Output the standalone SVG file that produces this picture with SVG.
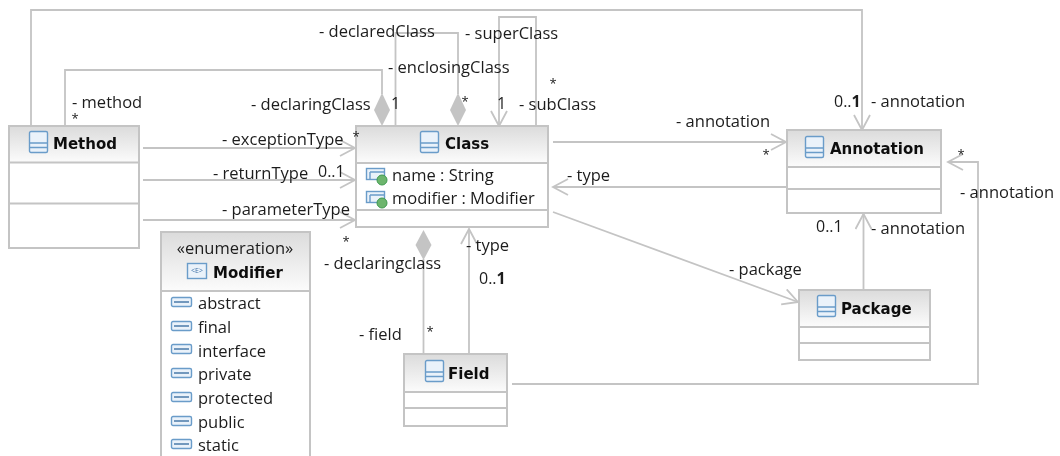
<svg xmlns="http://www.w3.org/2000/svg" xmlns:xlink="http://www.w3.org/1999/xlink" width="1060" height="456" viewBox="0 0 1060 456">
<style>
text{font-family:"Open Sans","DejaVu Sans",sans-serif;font-size:16.5px;fill:#1c1c1c}
.t{font-family:"DejaVu Sans","Liberation Sans",sans-serif;font-weight:bold;font-size:15px;fill:#111}
.m{font-size:16px}
.s{font-size:13px}
.b{font-weight:bold}
.box{fill:#fff;stroke:#c4c4c4;stroke-width:2}
.hd{fill:url(#hg)}
.div{stroke:#c4c4c4;stroke-width:2;fill:none}
.c{fill:none;stroke:#c4c4c4;stroke-width:1.8}
.d{fill:#c4c4c4;stroke:none}
.ic{fill:#eaf2fa;stroke:#6a9cc9;stroke-width:1.4}
.ln{stroke:#6a9cc9;stroke-width:1.4;fill:none}
</style>
<defs>
<filter id="soft" filterUnits="userSpaceOnUse" x="0" y="0" width="1060" height="456"><feGaussianBlur stdDeviation="0.3"/></filter>
<linearGradient id="hg" x1="0" y1="0" x2="0" y2="1"><stop offset="0" stop-color="#dcdcdc"/><stop offset="1" stop-color="#fbfbfb"/></linearGradient>
<marker id="a" markerUnits="userSpaceOnUse" markerWidth="20" markerHeight="20" refX="16" refY="9" orient="auto"><path d="M1 1L16 9L1 17" fill="none" stroke="#c4c4c4" stroke-width="1.8"/></marker>
<g id="ci"><rect x="0.5" y="0.5" width="18" height="21" rx="1.5" class="ic"/><path d="M0.5 12H18.5M0.5 16.5H18.5" class="ln"/></g>
<g id="ai"><rect x="0.5" y="0.5" width="18" height="11" class="ic"/><path d="M4 4H18M4 4V11" class="ln"/><circle cx="16" cy="12" r="5" fill="#6db56d" stroke="#3f9a4f"/></g>
<g id="li"><rect x="0.5" y="0.5" width="20" height="9" rx="1.500" class="ic"/><path d="M3 5H18" stroke="#4a7aa8" stroke-width="1.500"/></g>
</defs>
<g filter="url(#soft)">
<g id="connectors">
<path class="c" d="M31 126V10H862V130" marker-end="url(#a)"/>
<path class="c" d="M65 126V70H382V94"/>
<path class="d" d="M382 93L390 110L382 126L374 110Z"/>
<path class="c" d="M395.500 126V33H458V94"/>
<path class="d" d="M458 93L466 110L458 126L450 110Z"/>
<path class="c" d="M536 126V17H499V126" marker-end="url(#a)"/>
<path class="c" d="M143 148H355" marker-end="url(#a)"/>
<path class="c" d="M143 180H355" marker-end="url(#a)"/>
<path class="c" d="M143 220H355" marker-end="url(#a)"/>
<path class="c" d="M553 142H786" marker-end="url(#a)"/>
<path class="c" d="M786 187H553" marker-end="url(#a)"/>
<path class="c" d="M553 212L798 302" marker-end="url(#a)"/>
<path class="c" d="M863.500 290V214" marker-end="url(#a)"/>
<path class="c" d="M512 384H978V162H948" marker-end="url(#a)"/>
<path class="c" d="M469 354V229" marker-end="url(#a)"/>
<path class="c" d="M423.500 354V259"/>
<path class="d" d="M423.500 230L431.500 245L423.500 260L415.500 245Z"/>
</g>

<g id="method">
<rect class="box" x="9" y="126" width="130" height="122"/>
<rect class="hd" x="10" y="127" width="128" height="35"/>
<path class="div" d="M9 162.500H139M9 203.500H139"/>
<use xlink:href="#ci" href="#ci" x="29" y="131"/>
<text class="t" x="53" y="149">Method</text>
</g>

<g id="class">
<rect class="box" x="356" y="126" width="192" height="101"/>
<rect class="hd" x="357" y="127" width="190" height="35"/>
<path class="div" d="M356 163H548M356 210H548"/>
<use xlink:href="#ci" href="#ci" x="420" y="131"/>
<text class="t" x="445" y="149">Class</text>
<use xlink:href="#ai" href="#ai" x="366" y="168"/>
<text x="392" y="181">name : String</text>
<use xlink:href="#ai" href="#ai" x="366" y="191"/>
<text x="392" y="204">modifier : Modifier</text>
</g>

<g id="annotation">
<rect class="box" x="787" y="130" width="154" height="83"/>
<rect class="hd" x="788" y="131" width="152" height="35"/>
<path class="div" d="M787 167H941M787 189H941"/>
<use xlink:href="#ci" href="#ci" x="805" y="136"/>
<text class="t" x="830" y="154">Annotation</text>
</g>

<g id="package">
<rect class="box" x="799" y="290" width="131" height="70"/>
<rect class="hd" x="800" y="291" width="129" height="35"/>
<path class="div" d="M799 327H930M799 343H930"/>
<use xlink:href="#ci" href="#ci" x="817" y="295"/>
<text class="t" x="841" y="314">Package</text>
</g>

<g id="field">
<rect class="box" x="404" y="354" width="103" height="72"/>
<rect class="hd" x="405" y="355" width="101" height="36"/>
<path class="div" d="M404 392H507M404 408H507"/>
<use xlink:href="#ci" href="#ci" x="425" y="360"/>
<text class="t" x="448" y="379">Field</text>
</g>

<g id="modifier">
<path class="box" d="M161 457V232H310V457"/>
<rect class="hd" x="162" y="233" width="147" height="57"/>
<path class="div" d="M161 291H310"/>
<text x="235" y="254" text-anchor="middle">«enumeration»</text>
<rect class="ic" x="187.500" y="263.500" width="19" height="15"/>
<text x="197" y="273" text-anchor="middle" style="font-size:7px;fill:#3b6ea5">&lt;E&gt;</text>
<text class="t" x="213" y="278">Modifier</text>
<use xlink:href="#li" href="#li" x="171" y="297"/><text x="198" y="309">abstract</text>
<use xlink:href="#li" href="#li" x="171" y="321"/><text x="198" y="333">final</text>
<use xlink:href="#li" href="#li" x="171" y="344"/><text x="198" y="357">interface</text>
<use xlink:href="#li" href="#li" x="171" y="368"/><text x="198" y="380">private</text>
<use xlink:href="#li" href="#li" x="171" y="392"/><text x="198" y="404">protected</text>
<use xlink:href="#li" href="#li" x="171" y="416"/><text x="198" y="428">public</text>
<use xlink:href="#li" href="#li" x="171" y="439"/><text x="198" y="451">static</text>
</g>

<g id="labels">
<text x="319" y="37">- declaredClass</text>
<text x="465" y="39">- superClass</text>
<text x="388" y="73">- enclosingClass</text>
<text class="s" x="549.500" y="88">*</text>
<text x="72" y="108">- method</text>
<text class="s" x="71.500" y="123">*</text>
<text x="251" y="110">- declaringClass</text>
<text class="m" x="391" y="109">1</text>
<text class="s" x="461.500" y="106">*</text>
<text class="m" x="497" y="109">1</text>
<text x="519" y="110">- subClass</text>
<text x="222" y="145">- exceptionType</text>
<text class="s" x="352.500" y="141">*</text>
<text x="213" y="179">- returnType</text>
<text class="m" x="318" y="177">0..1</text>
<text x="222" y="215">- parameterType</text>
<text class="s" x="342.500" y="246">*</text>
<text x="324" y="269">- declaringclass</text>
<text x="466" y="251">- type</text>
<text class="m" x="479" y="284">0..<tspan class="b">1</tspan></text>
<text x="359" y="340">- field</text>
<text class="s" x="426.500" y="336">*</text>
<text x="676" y="127">- annotation</text>
<text class="s" x="762.500" y="159">*</text>
<text x="567" y="181">- type</text>
<text class="m" x="834" y="107">0..<tspan class="b">1</tspan></text>
<text x="871" y="107">- annotation</text>
<text class="s" x="957.500" y="159">*</text>
<text x="960" y="198">- annotation</text>
<text class="m" x="816" y="232">0..1</text>
<text x="871" y="234">- annotation</text>
<text x="729" y="275">- package</text>
</g>
</g>
</svg>
